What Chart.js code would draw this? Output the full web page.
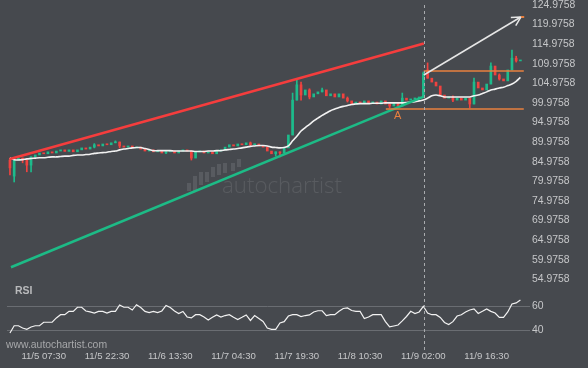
<!DOCTYPE html>
<html lang="en">
<head>
<meta charset="UTF-8">
<title>Autochartist - channel pattern</title>
<script src="https://cdn.jsdelivr.net/npm/chart.js"></script>
<style>
    body {
        margin: 0;
        background: #46494e;
    }
    #wrap {
        position: relative;
        width: 588px;
        height: 368px;
        background: #46494e;
        overflow: hidden;
    }
    canvas {
        position: absolute;
        left: 0;
    }
</style>
</head>
<body>
<div id="wrap">
    <canvas id="priceChart" width="588" height="290" style="top:0"></canvas>
    <canvas id="rsiChart" width="588" height="88" style="top:280px"></canvas>
</div>
<script>
// one candle per bar index (0..121)
const opens = [
    85.4, 81.3, 85.4, 85.9, 85.4, 84.1, 86.2, 86.7, 87.2, 87.0,
    87.5, 87.2, 87.7, 88.0, 87.6, 88.0, 87.5, 88.0, 88.5, 88.2,
    88.7, 89.3, 89.0, 89.5, 89.3, 89.8, 90.0, 89.0, 88.7, 89.0,
    88.5, 88.7, 88.2, 87.7, 88.0, 87.5, 87.7, 87.2, 87.5, 87.7,
    87.2, 87.7, 88.0, 87.7, 85.9, 87.5, 87.7, 87.2, 87.5, 87.0,
    87.7, 88.0, 88.7, 89.3, 89.0, 89.5, 89.3, 89.8, 89.3, 89.5,
    89.0, 88.7, 87.7, 87.0, 87.5, 87.2, 88.5, 91.8, 100.7, 104.6,
    102.0, 103.3, 101.5, 102.3, 102.8, 103.3, 101.8, 102.3, 101.5, 102.3,
    101.2, 100.5, 99.7, 100.2, 100.0, 100.5, 100.0, 100.2, 99.7, 100.5,
    99.7, 99.2, 100.0, 99.2, 101.2, 100.7, 101.0, 101.2, 101.5, 108.4,
    106.3, 105.3, 104.3, 102.0, 101.2, 101.5, 100.7, 101.2, 100.7, 101.2,
    99.7, 105.3, 103.8, 103.3, 104.8, 109.4, 107.1, 106.1, 105.6, 108.4,
    111.4, 110.7
];
const closes = [
    83.4, 85.4, 85.9, 85.4, 84.1, 86.2, 86.7, 87.2, 87.0, 87.5,
    87.2, 87.7, 88.0, 87.6, 88.0, 87.5, 88.0, 88.5, 88.2, 88.7,
    89.3, 89.0, 89.5, 89.3, 89.8, 90.0, 89.0, 88.7, 89.0, 88.5,
    88.7, 88.2, 87.7, 88.0, 87.5, 87.7, 87.2, 87.5, 87.7, 87.2,
    87.7, 88.0, 87.7, 85.9, 87.5, 87.7, 87.2, 87.5, 87.0, 87.7,
    88.0, 88.7, 89.3, 89.0, 89.5, 89.3, 89.8, 89.3, 89.5, 89.0,
    88.7, 87.7, 87.0, 87.5, 87.2, 88.5, 91.8, 100.7, 104.6, 102.0,
    103.3, 101.5, 102.3, 102.8, 103.3, 101.8, 102.3, 101.5, 102.3, 101.2,
    100.5, 99.7, 100.2, 100.0, 100.5, 100.0, 100.2, 99.7, 100.5, 99.7,
    99.2, 100.0, 99.2, 101.2, 100.7, 101.0, 101.2, 101.5, 107.6, 106.3,
    105.3, 104.3, 102.0, 101.2, 101.5, 100.7, 101.2, 100.7, 101.2, 99.7,
    105.3, 103.8, 103.3, 104.8, 109.4, 107.1, 106.1, 105.6, 108.4, 111.4,
    110.7, 110.9
];
// [bar, low, high] for the shadows that stick out
const wicks = [
    [0, 81.6, 85.9], [1, 79.8, 85.6], [3, 84.7, 85.9], [4, 82.4, 85.4], [5, 82.4, 86.2],
    [20, 88.5, 89.6], [25, 89.8, 90.3], [26, 88.5, 90.0], [37, 87.0, 87.9], [43, 85.4, 87.7],
    [57, 89.0, 90.0], [63, 86.4, 87.5], [64, 86.2, 87.5], [67, 91.8, 102.5], [68, 100.7, 105.8],
    [69, 100.7, 105.3], [71, 101.0, 103.6], [74, 102.8, 103.8], [80, 100.2, 101.5], [90, 98.7, 99.7],
    [93, 99.2, 102.5], [98, 101.5, 107.9], [99, 106.3, 110.2], [105, 100.3, 101.8], [109, 98.7, 101.2],
    [110, 99.7, 106.3], [114, 104.8, 110.2], [116, 105.8, 107.4], [119, 108.4, 113.5], [120, 110.4, 111.9]
];
const maValues = [
    85.9, 85.5, 85.4, 85.5, 85.7, 85.8, 85.9, 86.0, 86.0, 86.1,
    86.2, 86.2, 86.3, 86.4, 86.4, 86.6, 86.7, 86.7, 86.8, 86.9,
    87.1, 87.2, 87.3, 87.4, 87.6, 87.7, 88.0, 88.2, 88.35, 88.5,
    88.6, 88.6, 88.35, 88.1, 87.8, 87.8, 87.8, 87.8, 87.8, 87.7,
    87.7, 87.7, 87.7, 87.7, 87.6, 87.6, 87.6, 87.7, 87.7, 87.8,
    87.8, 88.0, 88.1, 88.2, 88.35, 88.5, 88.7, 88.9, 89.0, 89.1,
    89.1, 89.0, 88.7, 88.6, 88.5, 88.6, 89.0, 90.3, 91.5, 92.8,
    93.7, 94.5, 95.4, 96.1, 96.8, 97.4, 98.0, 98.4, 98.8, 99.1,
    99.3, 99.6, 99.7, 99.8, 99.8, 99.8, 99.9, 99.9, 99.9, 100.0,
    100.0, 100.0, 100.0, 100.0, 100.1, 100.2, 100.3, 100.5, 100.7, 101.2,
    101.8, 102.0, 101.8, 101.5, 101.5, 101.5, 101.5, 101.5, 101.5, 101.5,
    101.8, 102.0, 102.4, 102.8, 103.3, 103.5, 103.8, 104.0, 104.4, 104.8,
    105.5, 106.5
];
const rsiValues = [
    37.8, 43.8, 43.8, 41.9, 40.8, 42.8, 43.8, 43.8, 46.7, 46.7,
    46.7, 50.3, 53.0, 53.0, 55.8, 55.8, 59.2, 59.2, 56.1, 55.3,
    54.4, 55.8, 55.8, 54.4, 55.8, 55.8, 61.1, 59.2, 59.2, 56.9,
    61.3, 59.0, 55.8, 54.8, 55.8, 54.8, 56.1, 60.7, 59.0, 56.1,
    54.0, 55.7, 51.1, 50.3, 53.0, 53.0, 51.1, 48.6, 50.8, 52.8,
    51.1, 52.3, 53.0, 50.8, 49.0, 50.8, 52.8, 48.2, 52.3, 49.8,
    47.3, 41.9, 40.8, 40.8, 46.1, 47.2, 51.9, 53.0, 53.0, 51.5,
    52.3, 52.8, 55.3, 56.3, 56.3, 52.3, 53.0, 53.0, 55.8, 58.2,
    58.6, 56.5, 55.8, 55.8, 49.8, 51.1, 53.0, 53.0, 53.0, 47.2,
    42.8, 43.6, 44.4, 47.8, 51.5, 55.8, 54.0, 55.3, 60.0, 54.4,
    53.0, 53.0, 50.7, 46.5, 44.8, 47.2, 51.9, 53.0, 55.3, 56.9,
    57.8, 54.0, 55.8, 57.8, 55.8, 54.4, 50.8, 50.8, 55.3, 61.9,
    62.8, 65.3
];
const timeTicks = [8, 23, 38, 53, 68, 83, 98, 113];
const timeLabels = ['11/5 07:30', '11/5 22:30', '11/6 13:30', '11/7 04:30', '11/7 19:30', '11/8 10:30', '11/9 02:00', '11/9 16:30'];
const priceTicks = [54.9758, 59.9758, 64.9758, 69.9758, 74.9758, 79.9758, 84.9758, 89.9758, 94.9758, 99.9758, 104.9758, 109.9758, 114.9758, 119.9758, 124.9758];
const rsiTicks = [40, 60];

// pattern drawing, [bar, price]
const resistance = [[0, 85.67], [98.1, 115.15]];
const support = [[0.24, 58.03], [98.1, 101.57]];
const forecast = [[98.1, 107.11], [121.1, 121.91]];
const target = [[121.1, 121.91], [121.9, 121.91]];
const rangeTop = [[98.1, 108.13], [121.8, 108.13]];
const rangeBottom = [[89.1, 98.43], [121.8, 98.43]];
const pointA = [91.9, 96.7];
const breakoutBar = 98.1;

const upColor = '#1dbb8b';
const downColor = '#f0423f';
const axisText = '#c6c7c9';
const orange = '#e8803f';
const FONT = "'Liberation Sans', Arial, sans-serif";
const xMin = -0.7, xMax = 122.8;

function candleColor(i) {
    return closes[i] >= opens[i] ? upColor : downColor;
}

function lineSet(points, color, width, order) {
    return {
        type: 'line',
        data: points.map(p => ({ x: p[0], y: p[1] })),
        borderColor: color,
        borderWidth: width,
        pointRadius: 0,
        tension: 0,
        order: order
    };
}

function dashedBreakout(chart, y0, y1, offset) {
    const ctx = chart.ctx;
    const x = Math.round(chart.scales.x.getPixelForValue(breakoutBar)) + 0.5;
    ctx.save();
    ctx.strokeStyle = '#a9abae';
    ctx.lineWidth = 1;
    ctx.setLineDash([3, 3]);
    ctx.lineDashOffset = offset;
    ctx.beginPath();
    ctx.moveTo(x, y0);
    ctx.lineTo(x, y1);
    ctx.stroke();
    ctx.restore();
}

const priceDecor = {
    id: 'priceDecor',
    beforeDatasetsDraw(chart) {
        // watermark
        const ctx = chart.ctx;
        ctx.save();
        ctx.fillStyle = 'rgba(255,255,255,0.1)';
        const icon = [[187, 183, 191], [193, 176, 191], [199, 172, 185], [205, 172, 182], [211, 167, 177], [217, 164, 175], [223, 163, 173], [231, 163, 171], [237, 159, 167]];
        icon.forEach(b => ctx.fillRect(b[0], b[1], 4, b[2] - b[1]));
        let size = 20;
        ctx.font = '300 ' + size + "px 'Open Sans'";
        size = size * 120 / ctx.measureText('autochartist').width;
        ctx.font = '300 ' + size + "px 'Open Sans'";
        ctx.textBaseline = 'alphabetic';
        ctx.fillText('autochartist', 222, 193);
        ctx.restore();
    },
    afterDatasetsDraw(chart) {
        const ctx = chart.ctx;
        const xs = chart.scales.x, ys = chart.scales.y;
        dashedBreakout(chart, 5, 280, 0);

        // arrow head on the forecast line
        const x1 = xs.getPixelForValue(forecast[1][0]), y1 = ys.getPixelForValue(forecast[1][1]);
        const x0 = xs.getPixelForValue(forecast[0][0]), y0 = ys.getPixelForValue(forecast[0][1]);
        const ang = Math.atan2(y1 - y0, x1 - x0);
        ctx.save();
        ctx.strokeStyle = '#e6e6e6';
        ctx.lineWidth = 1.5;
        ctx.beginPath();
        [0.5, -0.5].forEach(d => {
            ctx.moveTo(x1, y1);
            ctx.lineTo(x1 - 10 * Math.cos(ang + d), y1 - 10 * Math.sin(ang + d));
        });
        ctx.stroke();

        ctx.fillStyle = orange;
        ctx.font = '11px ' + FONT;
        ctx.textAlign = 'center';
        ctx.textBaseline = 'middle';
        ctx.fillText('A', xs.getPixelForValue(pointA[0]), ys.getPixelForValue(pointA[1]));
        ctx.restore();
    }
};

const rsiDecor = {
    id: 'rsiDecor',
    afterDatasetsDraw(chart) {
        const ctx = chart.ctx;
        dashedBreakout(chart, 0, 72, 5);
        ctx.save();
        ctx.fillStyle = '#b9babc';
        ctx.font = 'bold 10.5px ' + FONT;
        ctx.textBaseline = 'middle';
        ctx.fillText('RSI', 15, 11);
        ctx.fillStyle = '#a7a8aa';
        ctx.font = '10.4px ' + FONT;
        ctx.fillText('www.autochartist.com', 6, 65);
        ctx.restore();
    }
};

new Chart(document.getElementById('priceChart'), {
    type: 'bar',
    data: {
        datasets: [
            {
                data: wicks.map(w => ({ x: w[0], y: [w[1], w[2]] })),
                backgroundColor: wicks.map(w => candleColor(w[0])),
                barThickness: 1,
                grouped: false,
                order: 6
            },
            {
                data: opens.map((o, i) => ({ x: i, y: [o, closes[i]] })),
                backgroundColor: opens.map((o, i) => candleColor(i)),
                barThickness: 2,
                minBarLength: 1,
                grouped: false,
                order: 5
            },
            Object.assign(lineSet(maValues.map((v, i) => [i, v]), '#f2f2f2', 1.6, 4), { tension: 0.3 }),
            lineSet(resistance, '#f53d3d', 2.5, 3),
            lineSet(support, '#1dbb86', 2.5, 3),
            lineSet(forecast, '#e6e6e6', 1.5, 2),
            lineSet(rangeTop, orange, 1.5, 2),
            lineSet(rangeBottom, orange, 1.5, 2),
            lineSet(target, orange, 2, 1)
        ]
    },
    options: {
        responsive: false,
        animation: false,
        devicePixelRatio: 1,
        layout: { padding: { left: 7, right: 0, top: 0, bottom: 0 } },
        plugins: { legend: { display: false }, tooltip: { enabled: false } },
        scales: {
            x: { type: 'linear', min: xMin, max: xMax, offset: false, display: false },
            y: {
                position: 'right',
                min: 52.23,
                max: 126.252,
                grid: { display: false, drawTicks: false },
                border: { display: false },
                afterBuildTicks: s => { s.ticks = priceTicks.map(v => ({ value: v })); },
                afterFit: s => { s.width = 60; s.paddingTop = 0; s.paddingBottom = 0; },
                ticks: {
                    color: axisText,
                    font: { family: FONT, size: 10.4 },
                    padding: 4,
                    callback: v => v.toFixed(4)
                }
            }
        }
    },
    plugins: [priceDecor]
});

new Chart(document.getElementById('rsiChart'), {
    type: 'line',
    data: {
        datasets: [{
            data: rsiValues.map((v, i) => ({ x: i, y: v })),
            borderColor: '#f2f2f2',
            borderWidth: 1.2,
            pointRadius: 0,
            tension: 0
        }]
    },
    options: {
        responsive: false,
        animation: false,
        devicePixelRatio: 1,
        layout: { padding: { left: 7, right: 0, top: 0, bottom: 0 } },
        plugins: { legend: { display: false }, tooltip: { enabled: false } },
        scales: {
            x: {
                type: 'linear',
                min: xMin,
                max: xMax,
                grid: { display: false, drawTicks: false },
                border: { display: false },
                afterBuildTicks: s => { s.ticks = timeTicks.map(v => ({ value: v })); },
                afterFit: s => { s.height = 21; s.paddingLeft = 0; s.paddingRight = 0; },
                ticks: {
                    color: axisText,
                    font: { family: FONT, size: 9.6 },
                    padding: 4,
                    maxRotation: 0,
                    autoSkip: false,
                    callback: (v, idx) => timeLabels[idx]
                }
            },
            y: {
                position: 'right',
                min: 26.08,
                max: 81.92,
                grid: { color: '#6a6d72', drawTicks: true, tickLength: 2 },
                border: { display: false },
                afterBuildTicks: s => { s.ticks = rsiTicks.map(v => ({ value: v })); },
                afterFit: s => { s.width = 60; s.paddingTop = 0; s.paddingBottom = 0; },
                ticks: {
                    color: axisText,
                    font: { family: FONT, size: 10.4 },
                    padding: 2,
                    callback: v => String(v)
                }
            }
        }
    },
    plugins: [rsiDecor]
});
</script>
</body>
</html>
